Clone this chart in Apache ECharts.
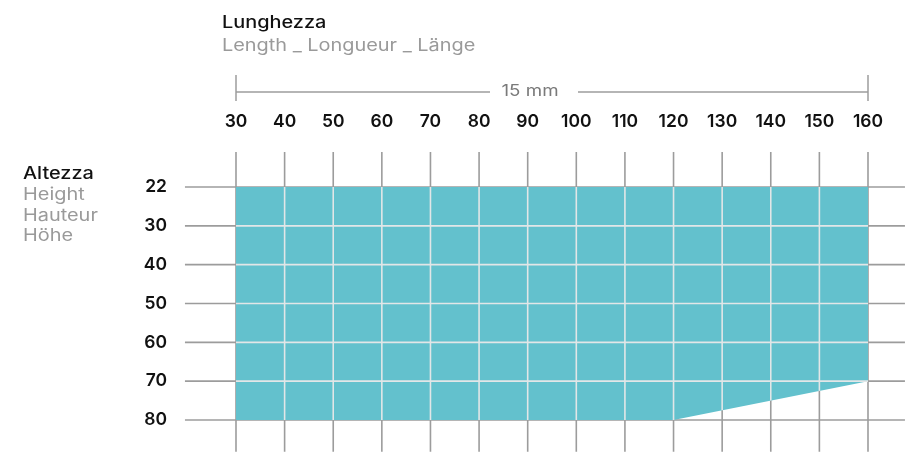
<!DOCTYPE html>
<html>
<head>
<meta charset="utf-8">
<script src="https://cdn.jsdelivr.net/npm/echarts@6/dist/echarts.min.js"></script>
<style>
  html, body { margin: 0; padding: 0; background: #ffffff; }
  #chart { width: 909px; height: 455px; }
</style>
</head>
<body>
<div id="chart"></div>
<script>
// Available lengths (mm) along the top, heights (mm) down the side
const lengths = [30, 40, 50, 60, 70, 80, 90, 100, 110, 120, 130, 140, 150, 160];
const heights = [22, 30, 40, 50, 60, 70, 80];

// Outline of the maximum height reachable for each length
const limitLengths = [30, 120, 160];
const limitHeights = [80, 80, 70];

const spanText = '15 mm';
const lengthTitle = 'Lunghezza';
const lengthSub = 'Length _ Longueur _ Länge';
const heightTitle = 'Altezza';
const heightSub = ['Height', 'Hauteur', 'Höhe'];

const FONT = 'Inter, "Noto Sans", sans-serif';
const GRAY_LINE = '#9c9c9c';
const LIGHT_LINE = '#e2e6e7';
const FILL = '#63c1cd';
const WIDE = 1.17; // horizontal stretch for the caption lettering

const xi = v => lengths.indexOf(v);
const yi = h => heights.indexOf(h);
const limitPts = limitLengths.map((l, k) => [xi(l), yi(limitHeights[k])]);

// Bottom edge of the filled region at a given x index
function limitAt(x) {
  for (let k = 0; k < limitPts.length - 1; k++) {
    const a = limitPts[k], b = limitPts[k + 1];
    if (x >= a[0] && x <= b[0]) {
      return a[1] + (b[1] - a[1]) * (x - a[0]) / (b[0] - a[0]);
    }
  }
  return limitPts[limitPts.length - 1][1];
}
// Right-most x index where the region still reaches row y
function reachAt(y) {
  let best = 0;
  for (let x = 0; x <= lengths.length - 1; x += 0.01) {
    if (limitAt(x) >= y - 1e-6) best = x;
  }
  return Math.min(best, lengths.length - 1);
}

const X_EXT = [-1.05, 13.76];
const Y_EXT = [-0.9, 6.82];

const gridItems = [];
lengths.forEach((v, i) => gridItems.push(['v', i]));
heights.forEach((h, j) => gridItems.push(['h', j]));

const innerItems = [];
for (let i = 1; i < lengths.length - 1; i++) innerItems.push(['v', i]);
for (let j = 1; j < heights.length - 1; j++) innerItems.push(['h', j]);

function lineShape(api, p1, p2, color, width) {
  const a = api.coord(p1), b = api.coord(p2);
  return {
    type: 'line',
    shape: { x1: a[0], y1: a[1], x2: b[0], y2: b[1] },
    style: { stroke: color, lineWidth: width }
  };
}

function caption(x, y, text, color, weight, lineHeight) {
  return {
    type: 'text', x: x, y: y, scaleX: WIDE, scaleY: 1,
    style: {
      text: text, fill: color, font: weight + ' 17px ' + FONT,
      verticalAlign: 'top', align: 'left', lineHeight: lineHeight || 20
    }
  };
}

const chart = echarts.init(document.getElementById('chart'), null, { renderer: 'canvas' });

chart.setOption({
  animation: false,
  backgroundColor: '#ffffff',
  grid: { left: 236, right: 41, top: 187, bottom: 35 },
  xAxis: {
    type: 'value',
    position: 'top',
    min: 0,
    max: lengths.length - 1,
    interval: 1,
    axisLine: { show: false },
    axisTick: { show: false },
    splitLine: { show: false },
    axisLabel: {
      margin: 56,
      color: '#111111',
      fontFamily: FONT,
      fontSize: 17.5,
      fontWeight: 600,
      formatter: v => (lengths[v] !== undefined ? String(lengths[v]) : '')
    }
  },
  yAxis: {
    type: 'value',
    inverse: true,
    min: 0,
    max: heights.length - 1,
    interval: 1,
    axisLabel: {
      margin: 69,
      color: '#111111',
      fontFamily: FONT,
      fontSize: 17.5,
      fontWeight: 600,
      formatter: v => (heights[v] !== undefined ? String(heights[v]) : '')
    },
    axisLine: { show: false },
    axisTick: { show: false },
    splitLine: { show: false }
  },
  series: [
    {
      // gray grid lines, extending past the table
      type: 'custom',
      clip: false,
      z: 1,
      data: gridItems,
      renderItem: (params, api) => {
        const it = gridItems[params.dataIndex];
        if (it[0] === 'v') {
          return lineShape(api, [it[1], Y_EXT[0]], [it[1], Y_EXT[1]], GRAY_LINE, 1.6);
        }
        return lineShape(api, [X_EXT[0], it[1]], [X_EXT[1], it[1]], GRAY_LINE, 1.6);
      }
    },
    {
      // region of available sizes
      type: 'line',
      z: 2,
      data: limitPts,
      showSymbol: false,
      symbol: 'none',
      lineStyle: { width: 0, opacity: 0 },
      areaStyle: { color: FILL, opacity: 1, origin: 'start' },
      silent: true
    },
    {
      // light grid lines inside the region
      type: 'custom',
      clip: false,
      z: 3,
      data: innerItems,
      renderItem: (params, api) => {
        const it = innerItems[params.dataIndex];
        if (it[0] === 'v') {
          return lineShape(api, [it[1], 0], [it[1], limitAt(it[1])], LIGHT_LINE, 1.6);
        }
        return lineShape(api, [0, it[1]], [reachAt(it[1]), it[1]], LIGHT_LINE, 1.6);
      }
    },
    {
      // overall length dimension line above the scale
      type: 'custom',
      clip: false,
      z: 3,
      data: [[0, lengths.length - 1]],
      renderItem: (params, api) => {
        const a = api.coord([0, 0]), b = api.coord([lengths.length - 1, 0]);
        const y = 92;
        const st = { stroke: GRAY_LINE, lineWidth: 1.5 };
        return {
          type: 'group',
          children: [
            { type: 'line', shape: { x1: a[0], y1: y, x2: 490, y2: y }, style: st },
            { type: 'line', shape: { x1: 578, y1: y, x2: b[0], y2: y }, style: st },
            { type: 'line', shape: { x1: a[0], y1: 75, x2: a[0], y2: 101 }, style: st },
            { type: 'line', shape: { x1: b[0], y1: 75, x2: b[0], y2: 101 }, style: st },
            {
              type: 'text', x: 530, y: 91, scaleX: WIDE,
              style: {
                x: 0, y: 0, text: spanText, align: 'center', verticalAlign: 'middle',
                fill: '#7a7a7a', font: '400 16px ' + FONT
              }
            }
          ]
        };
      }
    }
  ],
  graphic: [
    caption(222, 13, lengthTitle, '#111111', 500),
    caption(222, 36, lengthSub, '#9a9a9a', 400),
    caption(23, 164, heightTitle, '#111111', 500),
    caption(23, 185, heightSub.join('\n'), '#9a9a9a', 400, 20.5)
  ]
});
</script>
</body>
</html>
